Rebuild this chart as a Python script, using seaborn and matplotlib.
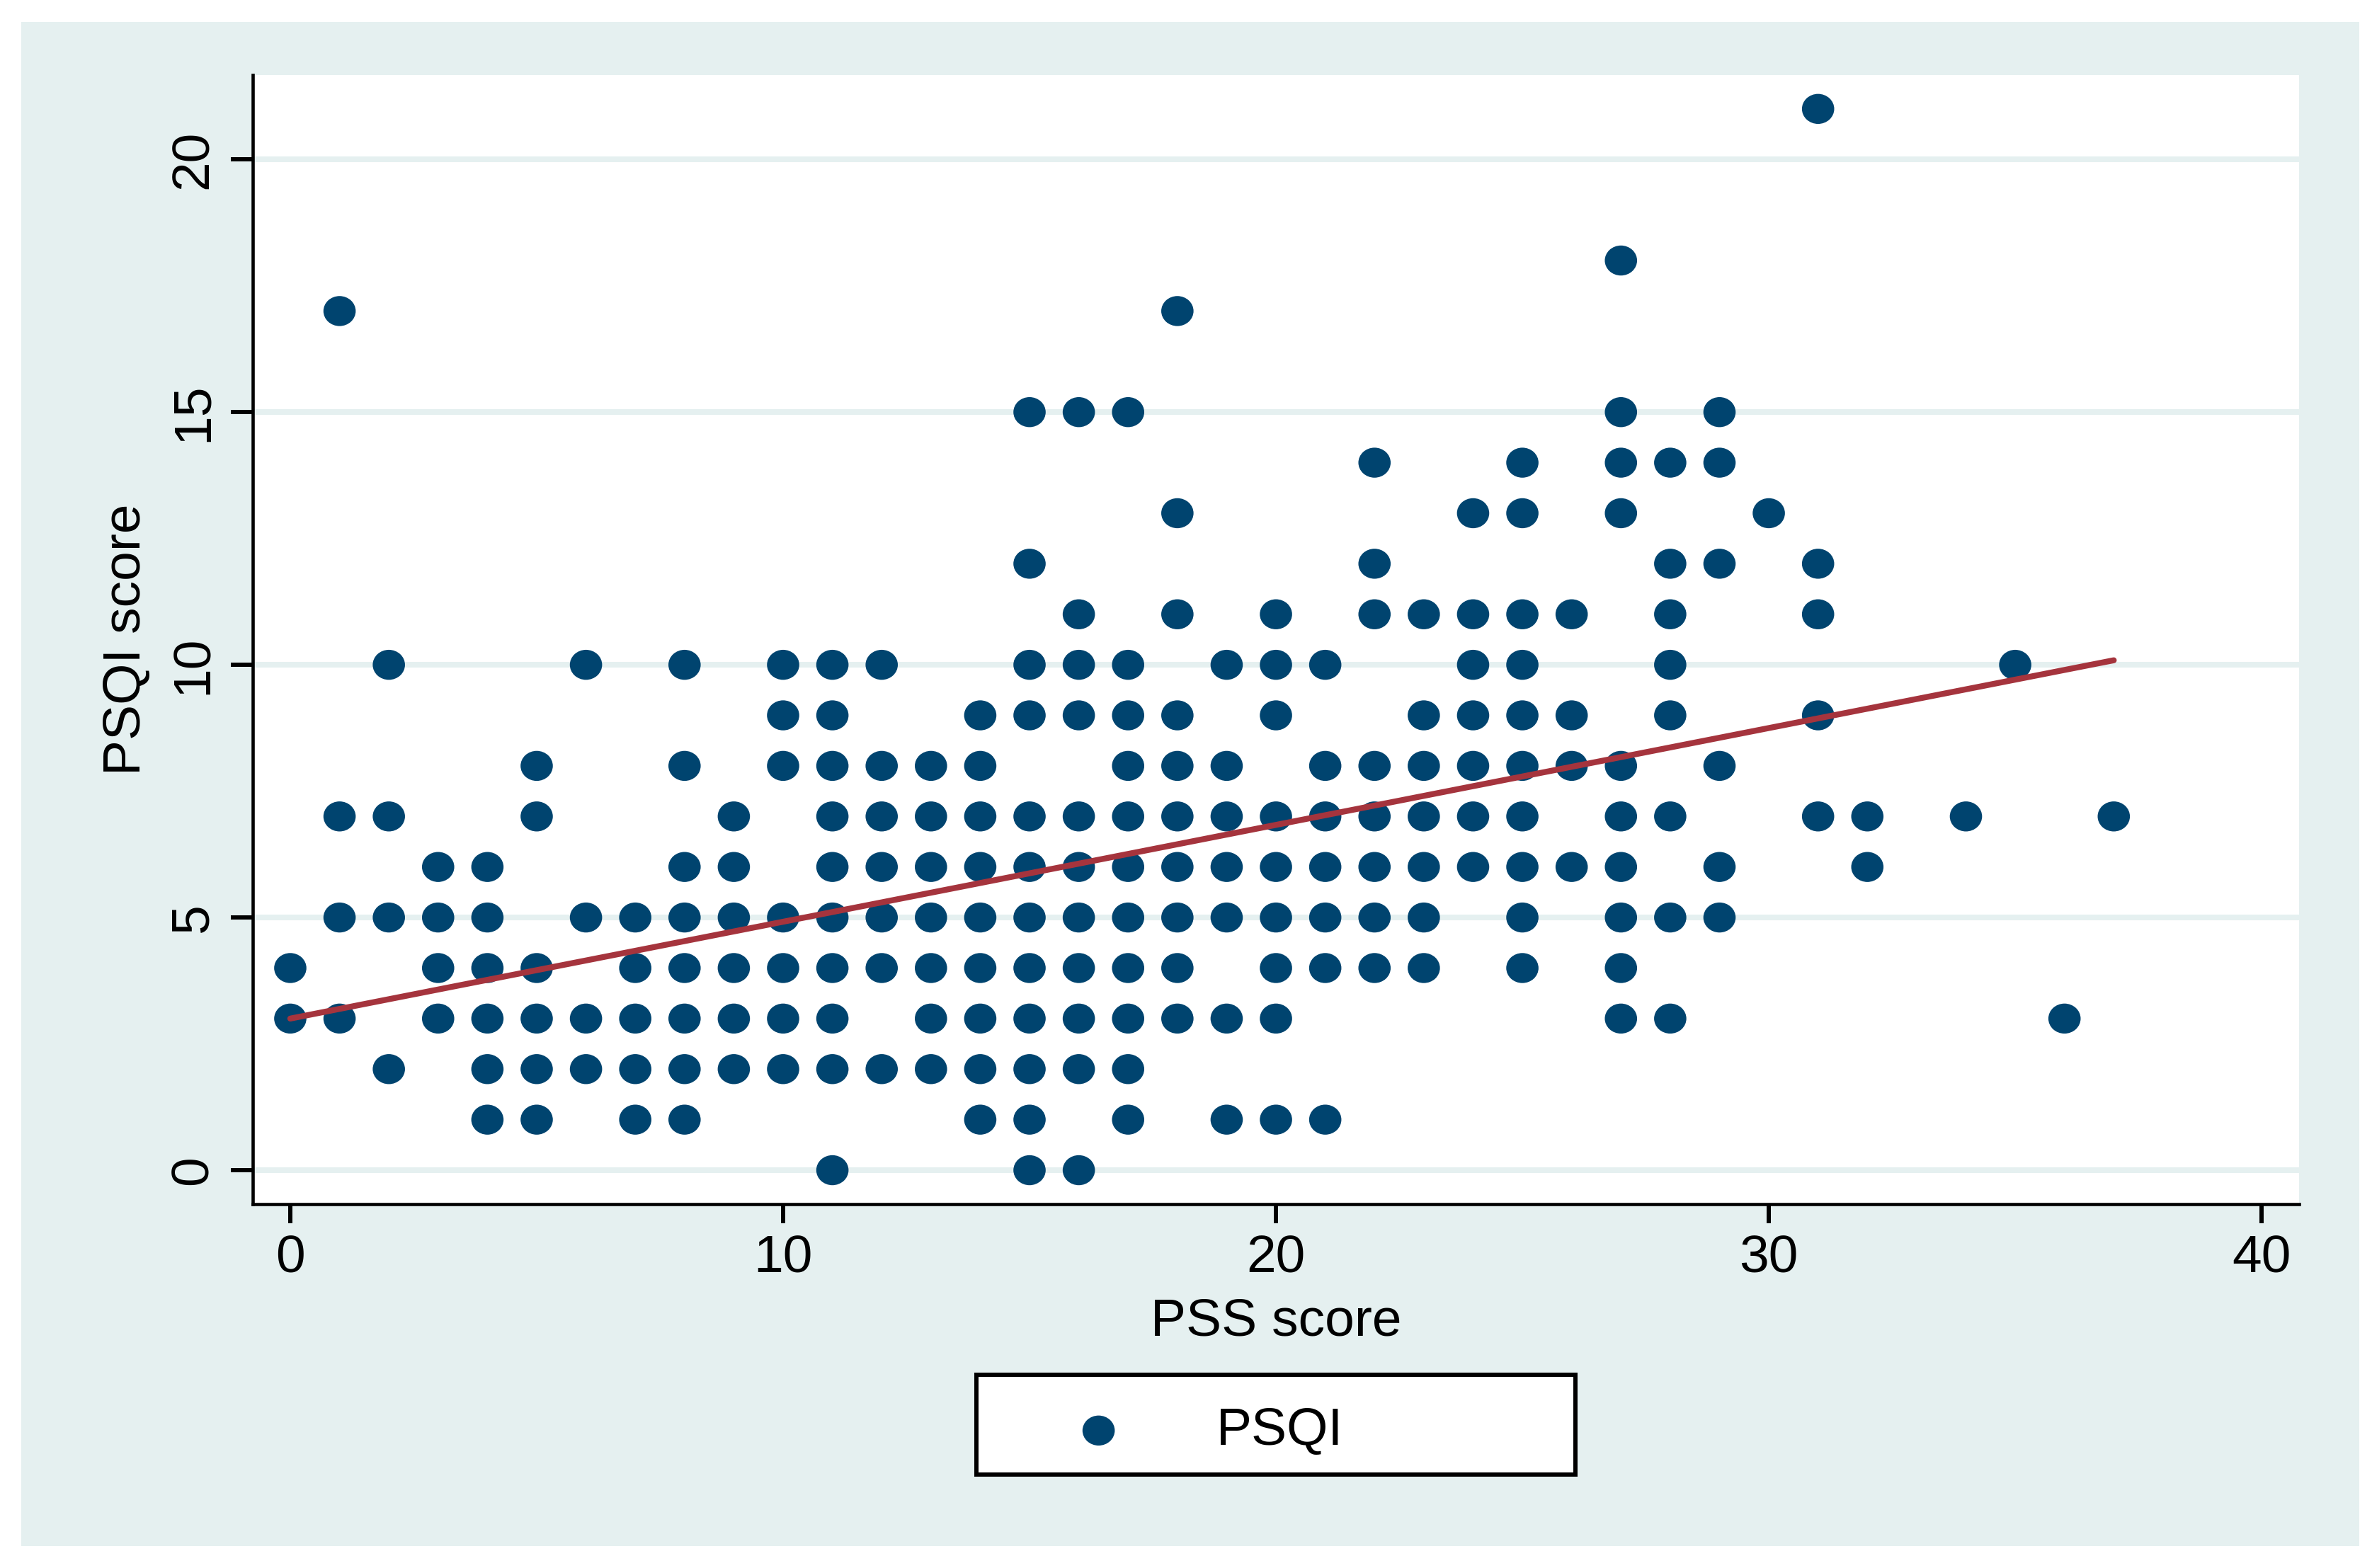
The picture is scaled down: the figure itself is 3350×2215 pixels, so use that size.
import numpy as np
import pandas as pd
import matplotlib
matplotlib.use("Agg")
import matplotlib.pyplot as plt
from matplotlib.path import Path
from matplotlib.patches import Rectangle
import seaborn as sns

# ---- data ----
pss_scores = [
    0, 0,
    1, 1, 1, 1,
    2, 2, 2, 2,
    3, 3, 3, 3,
    4, 4, 4, 4, 4, 4,
    5, 5, 5, 5, 5, 5,
    6, 6, 6, 6,
    7, 7, 7, 7, 7,
    8, 8, 8, 8, 8, 8, 8, 8,
    9, 9, 9, 9, 9, 9,
    10, 10, 10, 10, 10, 10, 10,
    11, 11, 11, 11, 11, 11, 11, 11, 11, 11,
    12, 12, 12, 12, 12, 12, 12,
    13, 13, 13, 13, 13, 13, 13,
    14, 14, 14, 14, 14, 14, 14, 14, 14,
    15, 15, 15, 15, 15, 15, 15, 15, 15, 15, 15, 15,
    16, 16, 16, 16, 16, 16, 16, 16, 16, 16, 16,
    17, 17, 17, 17, 17, 17, 17, 17, 17, 17, 17,
    18, 18, 18, 18, 18, 18, 18, 18, 18, 18,
    19, 19, 19, 19, 19, 19, 19,
    20, 20, 20, 20, 20, 20, 20, 20, 20,
    21, 21, 21, 21, 21, 21, 21,
    22, 22, 22, 22, 22, 22, 22, 22,
    23, 23, 23, 23, 23, 23, 23,
    24, 24, 24, 24, 24, 24, 24,
    25, 25, 25, 25, 25, 25, 25, 25, 25, 25,
    26, 26, 26, 26,
    27, 27, 27, 27, 27, 27, 27, 27, 27, 27,
    28, 28, 28, 28, 28, 28, 28, 28,
    29, 29, 29, 29, 29, 29,
    30,
    31, 31, 31, 31, 31,
    32, 32,
    34,
    35,
    36,
    37,
]
psqi_scores = [
    4, 3,
    17, 7, 5, 3,
    10, 7, 5, 2,
    6, 5, 4, 3,
    6, 5, 4, 3, 2, 1,
    8, 7, 4, 3, 2, 1,
    10, 5, 3, 2,
    5, 4, 3, 2, 1,
    10, 8, 6, 5, 4, 3, 2, 1,
    7, 6, 5, 4, 3, 2,
    10, 9, 8, 5, 4, 3, 2,
    10, 9, 8, 7, 6, 5, 4, 3, 2, 0,
    10, 8, 7, 6, 5, 4, 2,
    8, 7, 6, 5, 4, 3, 2,
    9, 8, 7, 6, 5, 4, 3, 2, 1,
    15, 12, 10, 9, 7, 6, 5, 4, 3, 2, 1, 0,
    15, 11, 10, 9, 7, 6, 5, 4, 3, 2, 0,
    15, 10, 9, 8, 7, 6, 5, 4, 3, 2, 1,
    17, 13, 11, 9, 8, 7, 6, 5, 4, 3,
    10, 8, 7, 6, 5, 3, 1,
    11, 10, 9, 7, 6, 5, 4, 3, 1,
    10, 8, 7, 6, 5, 4, 1,
    14, 12, 11, 8, 7, 6, 5, 4,
    11, 9, 8, 7, 6, 5, 4,
    13, 11, 10, 9, 8, 7, 6,
    14, 13, 11, 10, 9, 8, 7, 6, 5, 4,
    11, 9, 8, 6,
    18, 15, 14, 13, 8, 7, 6, 5, 4, 3,
    14, 12, 11, 10, 9, 7, 5, 3,
    15, 14, 12, 8, 6, 5,
    13,
    21, 12, 11, 9, 7,
    7, 6,
    7,
    10,
    3,
    7,
]
# linear fit line (end points)
fit_pss = [0, 37]
fit_psqi = [3.0, 10.09]

x_ticks = [0, 10, 20, 30, 40]
y_ticks = [0, 5, 10, 15, 20]
x_label = "PSS score"
y_label = "PSQI score"
legend_label = "PSQI"

# ---- style ----
sns.set_style("white")
plt.rcParams["font.family"] = ["Liberation Sans", "DejaVu Sans"]
plt.rcParams["text.color"] = "black"
plt.rcParams["axes.labelcolor"] = "black"

BG = "#E5F0F0"
NAVY = "#00446F"
RED = "#A5343D"
FS = 54

fig = plt.figure(figsize=(33.5, 22.15), dpi=100, facecolor="white")
fig.patches.append(Rectangle((0.00896, 0.013995), 0.98567, 0.97201,
                             transform=fig.transFigure, facecolor=BG,
                             edgecolor="none", zorder=-2))
fig.patches.append(Rectangle((0.41164, 0.05959), 0.25254, 0.06366,
                             transform=fig.transFigure, facecolor="white",
                             edgecolor="black", linewidth=4.3, zorder=-1))

ax = fig.add_axes([0.10642, 0.23205, 0.86284, 0.72009])
ax.set_facecolor("white")

df = pd.DataFrame({"PSS": pss_scores, "PSQI": psqi_scores})
circle = Path.unit_circle()
ell_marker = Path(circle.vertices * np.array([1.0, 0.93]), circle.codes)

sns.scatterplot(data=df, x="PSS", y="PSQI", ax=ax, marker=ell_marker, s=1077,
                color=NAVY, edgecolor="none", linewidth=0,
                label=legend_label, zorder=3)
sns.lineplot(x=fit_pss, y=fit_psqi, ax=ax, color=RED, linewidth=6,
             zorder=4, legend=False)

ax.set_xlim(-0.768, 40.76)
ax.set_ylim(-0.672, 21.67)
ax.set_xticks(x_ticks)
ax.set_yticks(y_ticks)
ax.set_xticklabels([str(t) for t in x_ticks])
ax.set_yticklabels([str(t) for t in y_ticks])

ax.yaxis.grid(True, color=BG, linewidth=5.8)
ax.xaxis.grid(False)
ax.set_axisbelow(True)

for side in ["top", "right"]:
    ax.spines[side].set_visible(False)
for side in ["left", "bottom"]:
    ax.spines[side].set_color("black")
    ax.spines[side].set_linewidth(3.3)

ax.tick_params(axis="x", direction="out", length=19.5, width=4.3, pad=11,
               labelsize=FS, colors="black", bottom=True)
ax.tick_params(axis="y", direction="out", length=22.3, width=4.3, pad=13,
               labelsize=FS, colors="black", left=True, labelrotation=90)
for lbl in ax.get_yticklabels():
    lbl.set_va("center")

ax.set_xlabel(x_label, fontsize=FS, color="black")
ax.xaxis.set_label_coords(0.5, -0.116)
ax.xaxis.label.set_va("baseline")
ax.set_ylabel(y_label, fontsize=FS, color="black")
ax.yaxis.set_label_coords(-0.05484, 0.5)
ax.yaxis.label.set_va("baseline")

ax.legend(handles=[ax.collections[0]], labels=[legend_label],
          loc="center left", bbox_to_anchor=(0.45197, 0.08758),
          bbox_transform=fig.transFigure, frameon=False, borderpad=0,
          borderaxespad=0, handlelength=1.0, handletextpad=1.715,
          fontsize=FS, scatterpoints=1, labelcolor="black")

fig.savefig("out.png", dpi=100, facecolor="white")
